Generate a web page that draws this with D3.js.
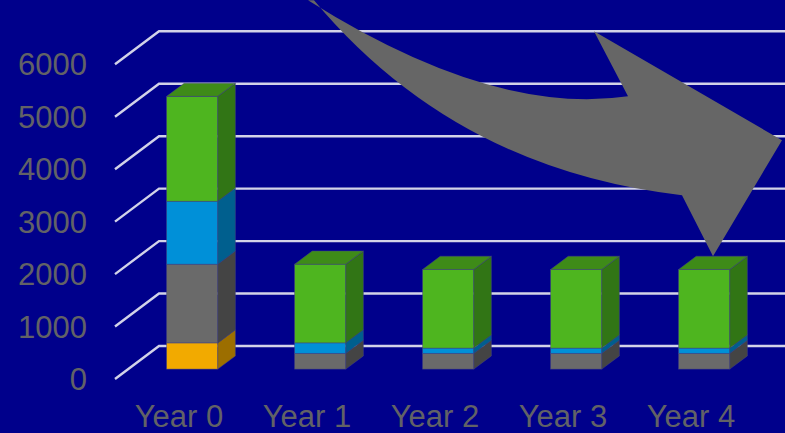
<!DOCTYPE html>
<style>
	body { margin: 0; background: #00008b; }
	svg { display: block; font-family: "Liberation Sans", Arial, sans-serif; }
</style>
<svg width="785" height="433"></svg>
<script src="https://d3js.org/d3.v7.min.js"></script>
<script>

	// data
	var years = ["Year 0", "Year 1", "Year 2", "Year 3", "Year 4"];
	var seriesKeys = ["s1", "s2", "s3", "s4"];   // bottom to top
	var s1 = [500, 0, 0, 0, 0];
	var s2 = [1500, 300, 300, 300, 300];
	var s3 = [1200, 200, 100, 100, 100];
	var s4 = [2000, 1500, 1500, 1500, 1500];
	var yTicks = [0, 1000, 2000, 3000, 4000, 5000, 6000];

	var frontCol = {s1: "#f2aa00", s2: "#6a6a6a", s3: "#0090d8", s4: "#4eb51f"},
		sideCol = {s1: "#9c6e00", s2: "#444444", s3: "#005f8e", s4: "#317515"},
		topCol = {s1: "#b88200", s2: "#555555", s3: "#0074ad", s4: "#3e8b18"};

	var svg = d3.select("svg");

	svg.append("rect")
		.attr("width", 785).attr("height", 433)
		.attr("fill", "#00008b");

	// depth of the floor and where the bars sit in it
	var depth = {dx: 44, dy: -33}, d0 = 0.3, d1 = 0.7;

	var x = d3.scaleBand()
		.domain(years)
		.range([115, 755])
		.paddingInner(0.6)
		.paddingOuter(0.3);

	var y = d3.scaleLinear()
		.domain([0, 6000])
		.range([379, 64.3]);

	var table = years.map(function(yr, i) {
		return {year: yr, s1: s1[i], s2: s2[i], s3: s3[i], s4: s4[i]};
	});
	var stacked = d3.stack().keys(seriesKeys)(table);

	// gridlines: diagonal on the left wall then along the back wall
	var grid = svg.append("g");
	yTicks.forEach(function(v) {
		var bx = 115 + depth.dx, by = y(v) + depth.dy;
		grid.append("path")
			.attr("d", "M115," + y(v) + "L" + bx + "," + by + "L" + (755 + depth.dx) + "," + by)
			.attr("fill", "none")
			.attr("stroke", "#d2d3e8")
			.attr("stroke-width", 2.4);
	});

	// 3d bars
	var bars = svg.append("g");
	years.forEach(function(yr, i) {
		var segs = stacked.map(function(s) { return {key: s.key, lo: s[i][0], hi: s[i][1]}; })
			.filter(function(s) { return s.hi > s.lo; });
		segs.forEach(function(s, j) {
			var fx0 = x(yr) + d0 * depth.dx, fx1 = fx0 + x.bandwidth(),
				fyTop = y(s.hi) + d0 * depth.dy, fyBot = y(s.lo) + d0 * depth.dy,
				ox = (d1 - d0) * depth.dx, oy = (d1 - d0) * depth.dy;

			bars.append("rect")
				.attr("x", fx0).attr("y", fyTop)
				.attr("width", x.bandwidth()).attr("height", fyBot - fyTop)
				.attr("fill", frontCol[s.key])
				.attr("stroke", "rgba(70,70,130,0.6)").attr("stroke-width", 0.8);

			bars.append("path")
				.attr("d", "M" + fx1 + "," + fyBot + "L" + (fx1 + ox) + "," + (fyBot + oy) +
					"L" + (fx1 + ox) + "," + (fyTop + oy) + "L" + fx1 + "," + fyTop + "Z")
				.attr("fill", sideCol[s.key])
				.attr("stroke", "rgba(70,70,130,0.6)").attr("stroke-width", 0.8);

			if (j == segs.length - 1) {
				bars.append("path")
					.attr("d", "M" + fx0 + "," + fyTop + "L" + fx1 + "," + fyTop +
						"L" + (fx1 + ox) + "," + (fyTop + oy) + "L" + (fx0 + ox) + "," + (fyTop + oy) + "Z")
					.attr("fill", topCol[s.key])
					.attr("stroke", "rgba(70,70,130,0.6)").attr("stroke-width", 0.8);
			}
		});
	});

	// big grey arrow pointing down to the last bar
	var last = years.length - 1,
		tipX = x(years[last]) + x.bandwidth() / 2 + 0.5 * depth.dx,
		tipY = y(s1[last] + s2[last] + s3[last] + s4[last]) + d1 * depth.dy;
	var arrow = d3.path();
	arrow.moveTo(tipX - 405, tipY - 256);
	arrow.quadraticCurveTo(tipX - 221, tipY - 140, tipX - 85, tipY - 160);
	arrow.lineTo(tipX - 119, tipY - 225);
	arrow.lineTo(tipX + 69, tipY - 116);
	arrow.lineTo(tipX, tipY);
	arrow.lineTo(tipX - 31, tipY - 61);
	arrow.quadraticCurveTo(tipX - 258, tipY - 87, tipX - 399, tipY - 256);
	arrow.closePath();
	svg.append("path")
		.attr("d", arrow.toString())
		.attr("fill", "#666666");

	// y axis labels
	svg.append("g")
		.selectAll("text")
		.data(yTicks)
		.enter().append("text")
		.attr("x", 87)
		.attr("y", function(d) { return y(d); })
		.attr("dy", "0.36em")
		.attr("text-anchor", "end")
		.attr("fill", "#626266")
		.style("font-size", "31px")
		.text(function(d) { return d; });

	// x axis labels
	svg.append("g")
		.selectAll("text")
		.data(years)
		.enter().append("text")
		.attr("x", function(d) { return x(d) + x.bandwidth() / 2; })
		.attr("y", 427)
		.attr("text-anchor", "middle")
		.attr("fill", "#626266")
		.style("font-size", "31px")
		.text(function(d) { return d; });

</script>
